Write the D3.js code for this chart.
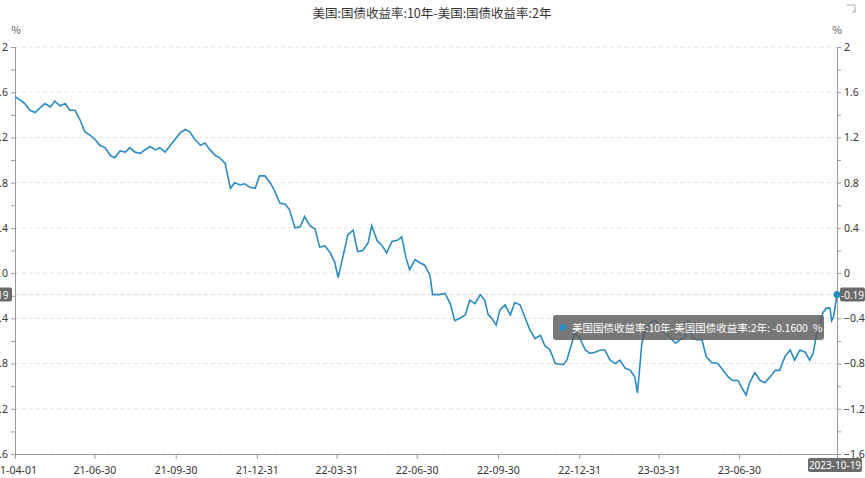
<!DOCTYPE html>
<html><head><meta charset="utf-8">
<script src="https://cdn.jsdelivr.net/npm/d3@7"></script>
<style>body{margin:0;background:#fff}svg{font-family:"Noto Sans CJK SC","Noto Sans",sans-serif}</style>
</head><body><svg width="865" height="478"></svg>
<script>
// series: days after 2021-04-01, spread value (%)
const startDate = "2021-04-01";
const dayOffsets = [0,6,11,17,23,28,34,40,45,51,57,62,68,74,79,85,91,96,102,108,113,119,125,130,136,142,147,153,159,164,170,176,181,187,193,198,204,210,215,221,227,232,238,244,249,255,260,266,272,277,283,289,294,300,306,311,317,323,328,334,340,345,351,357,362,366,371,377,383,388,394,400,404,410,416,421,427,433,438,443,447,453,459,464,470,473,481,487,493,498,504,510,515,521,527,532,536,540,545,549,555,561,566,572,578,583,589,595,600,606,612,621,625,634,640,646,651,657,663,668,674,680,685,691,697,702,705,710,714,719,725,731,736,742,748,753,759,762,767,772,778,783,789,796,802,808,813,819,823,828,832,838,844,849,855,861,866,872,878,883,889,895,900,904,908,912,915,919,923,925,927,931];
const spread = [1.56,1.53,1.50,1.44,1.42,1.46,1.50,1.47,1.52,1.48,1.50,1.44,1.44,1.35,1.25,1.22,1.18,1.13,1.11,1.04,1.02,1.08,1.07,1.11,1.07,1.06,1.09,1.12,1.09,1.11,1.07,1.13,1.18,1.24,1.27,1.25,1.18,1.13,1.15,1.09,1.04,1.02,0.97,0.75,0.80,0.78,0.79,0.76,0.75,0.86,0.86,0.80,0.73,0.62,0.61,0.56,0.40,0.41,0.50,0.42,0.39,0.23,0.24,0.18,0.10,-0.04,0.13,0.34,0.38,0.19,0.20,0.27,0.42,0.29,0.24,0.18,0.28,0.29,0.32,0.13,0.03,0.12,0.09,0.07,-0.02,-0.19,-0.19,-0.18,-0.27,-0.42,-0.40,-0.37,-0.24,-0.27,-0.19,-0.24,-0.37,-0.40,-0.46,-0.33,-0.28,-0.37,-0.26,-0.28,-0.40,-0.50,-0.58,-0.55,-0.64,-0.68,-0.80,-0.81,-0.77,-0.53,-0.58,-0.68,-0.71,-0.70,-0.68,-0.68,-0.77,-0.80,-0.77,-0.84,-0.86,-0.92,-1.06,-0.62,-0.50,-0.44,-0.42,-0.48,-0.53,-0.57,-0.62,-0.59,-0.57,-0.42,-0.57,-0.59,-0.59,-0.74,-0.79,-0.80,-0.86,-0.92,-0.95,-0.95,-1.01,-1.08,-0.97,-0.88,-0.95,-0.97,-0.92,-0.86,-0.86,-0.74,-0.68,-0.77,-0.68,-0.70,-0.77,-0.71,-0.53,-0.44,-0.35,-0.31,-0.31,-0.42,-0.39,-0.19];
const xTickDates = ["2021-04-01","2021-06-30","2021-09-30","2021-12-31","2022-03-31","2022-06-30","2022-09-30","2022-12-31","2023-03-31","2023-06-30"];
const yTicks = [2,1.6,1.2,0.8,0.4,0,-0.4,-0.8,-1.2,-1.6];
const title = "美国:国债收益率:10年-美国:国债收益率:2年";
const tooltipText = "美国国债收益率:10年-美国国债收益率:2年: -0.1600  %";
const lastLabel = "-0.19";
const endDateLabel = "2023-10-19";

const parse = d3.timeParse("%Y-%m-%d");
const t0 = parse(startDate);
const data = dayOffsets.map((o, i) => ({ date: d3.timeDay.offset(t0, o), value: spread[i] }));
const last = data[data.length - 1];

const svg = d3.select("svg");
const L = 15, R = 837, T = 47, B = 454;
const x = d3.scaleTime().domain([t0, last.date]).range([L, R]);
const y = d3.scaleLinear().domain([-1.6, 2]).range([B, T]);
const grey = "#999", txt = "#333";

svg.append("text").attr("x", 432).attr("y", 18).attr("text-anchor", "middle")
  .attr("font-size", 12.5).attr("fill", txt).text(title);
svg.append("path").attr("d", "M847,5h8v8M852,13l3,-3").attr("fill", "none").attr("stroke", "#aaa");

// grid
svg.append("g").selectAll("line").data(yTicks).join("line")
  .attr("x1", L).attr("x2", R).attr("y1", d => y(d)).attr("y2", d => y(d))
  .attr("stroke", "#e2e2e2").attr("stroke-dasharray", "4,3");
svg.append("line").attr("x1", L).attr("x2", R).attr("y1", y(last.value)).attr("y2", y(last.value))
  .attr("stroke", "#ddd").attr("stroke-dasharray", "4,3");

// y axes
const minor = d3.range(-1.6, 2.01, 0.2);
const fmt = d => yTicks.some(t => Math.abs(t - d) < 1e-6) ? d3.format("~g")(+d.toFixed(1)) : "";
const yl = svg.append("g").attr("transform", `translate(${L},0)`)
  .call(d3.axisLeft(y).tickValues(minor).tickSize(4).tickFormat(fmt));
const yr = svg.append("g").attr("transform", `translate(${R},0)`)
  .call(d3.axisRight(y).tickValues(minor).tickSize(4).tickFormat(fmt));
const xa = svg.append("g").attr("transform", `translate(0,${B})`)
  .call(d3.axisBottom(x).tickValues(xTickDates.map(parse)).tickSize(5).tickFormat(d3.timeFormat("%y-%m-%d")));
[yl, yr, xa].forEach(g => {
  g.select(".domain").attr("stroke", grey);
  g.selectAll(".tick line").attr("stroke", grey);
  g.selectAll("text").attr("fill", txt).attr("font-size", 10.5).attr("font-family", "Noto Sans, sans-serif");
});
xa.selectAll("text").attr("dy", "1.1em");
svg.append("text").attr("x", 16).attr("y", 34).attr("text-anchor", "middle").attr("font-size", 10.5).attr("fill", "#555").text("%");
svg.append("text").attr("x", 837).attr("y", 34).attr("text-anchor", "middle").attr("font-size", 10.5).attr("fill", "#555").text("%");

// line
svg.append("path").datum(data).attr("fill", "none").attr("stroke", "#2a8ac1").attr("stroke-width", 1.6)
  .attr("d", d3.line().x(d => x(d.date)).y(d => y(d.value)));
svg.append("circle").attr("cx", x(last.date)).attr("cy", y(last.value)).attr("r", 3.5).attr("fill", "#2a8ac1");

// markers
function badge(cx, cy, w, label) {
  svg.append("rect").attr("x", cx).attr("y", cy - 7).attr("width", w).attr("height", 14).attr("rx", 2).attr("fill", "#6b6b6b");
  svg.append("text").attr("x", cx + w / 2).attr("y", cy + 4).attr("text-anchor", "middle").attr("font-size", 10)
    .attr("fill", "#fff").attr("font-family", "Noto Sans, sans-serif").text(label);
}
badge(840, y(last.value), 25, lastLabel);
badge(-18, y(last.value), 30, lastLabel);
badge(808, 465, 54, endDateLabel);

// tooltip
const tip = svg.append("g").attr("transform", "translate(553,315)");
tip.append("rect").attr("width", 271).attr("height", 25).attr("rx", 3).attr("fill", "rgba(90,90,90,0.82)");
tip.append("circle").attr("cx", 10).attr("cy", 12.5).attr("r", 3.5).attr("fill", "#2a8ac1");
tip.append("text").attr("x", 19).attr("y", 17).attr("font-size", 10.5).attr("fill", "#fff")
  .style("white-space", "pre").text(tooltipText);
</script></body></html>
